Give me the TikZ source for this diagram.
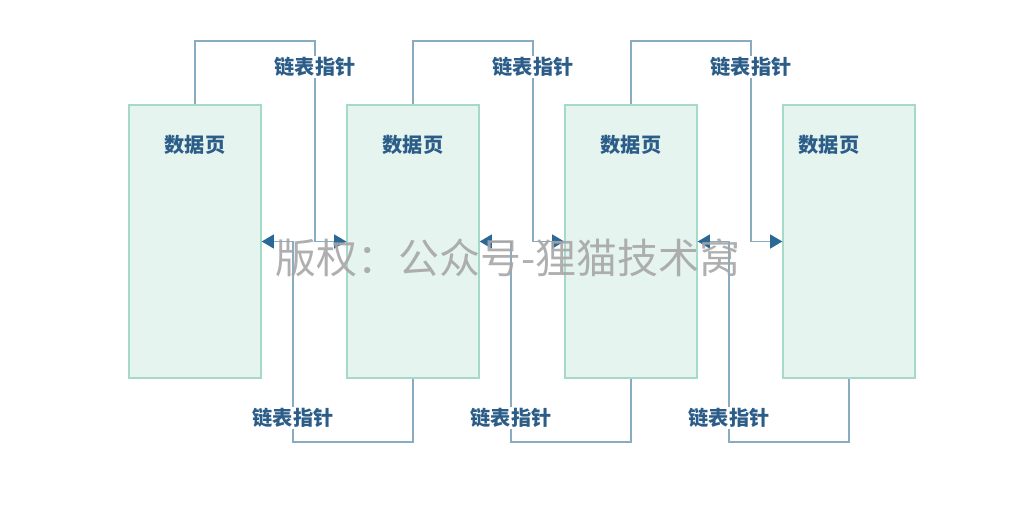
\documentclass[tikz,border=0pt]{standalone}
\usepackage{fontspec}
\setmainfont{Noto Sans CJK SC}
\usetikzlibrary{arrows.meta}
\definecolor{pagefill}{HTML}{E6F4EF}
\definecolor{pageline}{HTML}{A6DAC8}
\definecolor{linkline}{HTML}{8AACC1}
\definecolor{linktip}{HTML}{2A6898}
\definecolor{linktext}{HTML}{2B5D88}
\tikzset{
  page/.style={draw=pageline, fill=pagefill, line width=0.8pt,
    minimum width=2.64cm, minimum height=5.46cm, inner sep=0pt},
  pagetitle/.style={font=\bfseries\fontsize{11.5}{12}\selectfont, text=linktext},
  link/.style={draw=linkline, line width=0.85pt,
    -{Triangle[color=linktip, length=7pt, width=8pt]}},
  linklabel/.style={font=\bfseries\fontsize{11.5}{12}\selectfont, text=linktext,
    fill=white, inner sep=1pt}
}
\begin{document}
\begin{tikzpicture}[x=0.02cm, y=-0.02cm]
  \useasboundingbox (0,0) rectangle (1028,510);
  % data pages
  \foreach \i/\x in {1/195, 2/413, 3/631, 4/849}
    \node[page] (p\i) at (\x, 241.5) {};
  \node[pagetitle] (l1) at (195,145) {数据页};
  \node[pagetitle] (l2) at (413,145) {数据页};
  \node[pagetitle] (l3) at (631,145) {数据页};
  \node[pagetitle] (l4) at (829,145) {数据页};
  % pointers
  \foreach \i/\j/\x in {1/2/315, 2/3/533, 3/4/751} {
    \coordinate (t\i) at (\x, 41);
    \draw[link] (p\i.north) |- (t\i) |- (p\j.west);
    \node[linklabel] (n\i) at (\x, 67) {链表指针};
  }
  \foreach \i/\j/\x in {1/2/293, 2/3/511, 3/4/729} {
    \coordinate (b\i) at (\x, 442);
    \draw[link] (p\j.south) |- (b\i) |- (p\i.east);
    \node[linklabel] (m\i) at (\x, 418) {链表指针};
  }
  % watermark
  \node[text=black!35, opacity=0.9, font=\fontsize{23.3}{25}\selectfont] (wm) at (508, 258)
    {版权：公众号-狸猫技术窝};
\end{tikzpicture}
\end{document}
